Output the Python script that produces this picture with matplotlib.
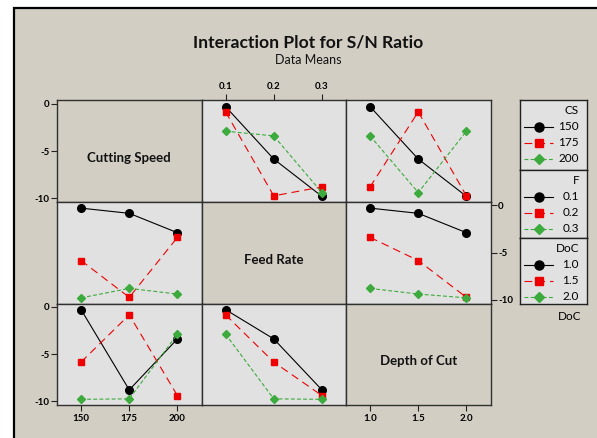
import matplotlib.pyplot as plt
import matplotlib.patches as mpatches
import pandas as pd

# L9 runs
cs_runs = [150, 150, 150, 175, 175, 175, 200, 200, 200]
f_runs = [0.1, 0.2, 0.3, 0.1, 0.2, 0.3, 0.1, 0.2, 0.3]
doc_runs = [1.0, 1.5, 2.0, 1.5, 2.0, 1.0, 2.0, 1.0, 1.5]
sn_runs = [-0.3, -5.85, -9.8, -0.85, -9.75, -8.8, -2.9, -3.4, -9.4]

factor_cols = ["CS", "F", "DoC"]
factor_names = ["Cutting Speed", "Feed Rate", "Depth of Cut"]
levels = {"CS": [150, 175, 200], "F": [0.1, 0.2, 0.3], "DoC": [1.0, 1.5, 2.0]}
level_labels = {"CS": ["150", "175", "200"], "F": ["0.1", "0.2", "0.3"],
                "DoC": ["1.0", "1.5", "2.0"]}
y_ticks = [0, -5, -10]

df = pd.DataFrame({"CS": cs_runs, "F": f_runs, "DoC": doc_runs, "SN": sn_runs})

W, H = 597, 438
BEIGE = "#D2CEC4"
PANEL = "#E1E1E1"
LW = 0.8
styles = [
    dict(color="black", marker="o", linestyle="-", markersize=5.5),
    dict(color="#EE0000", marker="s", linestyle=(0, (7, 4.5)), markersize=5),
    dict(color="#3DAA3D", marker="D", linestyle=(0, (3.5, 2)), markersize=4.5),
]

plt.rcParams["font.family"] = ["Lato", "DejaVu Sans"]


def px(x, y, w, h):
    return [x / W, 1 - (y + h) / H, w / W, h / H]


fig = plt.figure(figsize=(W / 100, H / 100), dpi=100, facecolor="white")
fig.patches.append(mpatches.Rectangle((13.5 / W, -0.1), 1.2, 1 - 8 / H + 0.1,
                                      transform=fig.transFigure, facecolor=BEIGE,
                                      edgecolor="black", linewidth=1.6, zorder=-5))

fig.text(308 / W, 1 - 42 / H, "Interaction Plot for S/N Ratio", ha="center",
         va="center", fontsize=12.6, fontweight="bold", color="#111111")
fig.text(308 / W, 1 - 60 / H, "Data Means", ha="center", va="center",
         fontsize=9, color="#111111")

x0, y0 = 57, 100.5
cw, ch = (490.5 - 57) / 3, (405 - 100.5) / 3

for r, row_f in enumerate(factor_cols):
    for c, col_f in enumerate(factor_cols):
        ax = fig.add_axes(px(x0 + c * cw, y0 + r * ch, cw, ch))
        lv = levels[col_f]
        step = lv[1] - lv[0]
        ax.set_xlim(lv[0] - 0.5 * step, lv[-1] + 0.5 * step)
        ax.set_ylim(-10.4, 0.35)
        ax.set_xticks(lv)
        ax.set_xticklabels(level_labels[col_f])
        ax.set_yticks(y_ticks)
        ax.set_yticklabels([str(t) for t in y_ticks])
        for s in ax.spines.values():
            s.set_color("#303030")
            s.set_linewidth(1.0)
        if r == c:
            ax.set_facecolor(BEIGE)
            ax.text(0.5, 0.43, factor_names[r], transform=ax.transAxes,
                    ha="center", va="center", fontsize=9.5, fontweight="bold",
                    color="#111111")
        else:
            ax.set_facecolor(PANEL)
            tab = df.groupby([row_f, col_f])["SN"].mean().unstack(col_f)
            for k, lev in enumerate(levels[row_f]):
                ax.plot(lv, tab.loc[lev, lv].values, linewidth=LW, **styles[k])
        ax.tick_params(axis="both", labelsize=7, length=4, width=0.8,
                       color="#222222", pad=2.5,
                       left=(c == 0 and r != 1), labelleft=(c == 0 and r != 1),
                       right=(c == 2 and r == 1), labelright=(c == 2 and r == 1),
                       bottom=(r == 2 and c != 1), labelbottom=(r == 2 and c != 1),
                       top=(r == 0 and c == 1), labeltop=(r == 0 and c == 1))
        ax.tick_params(axis="y", pad=1.5)
        for lab in ax.get_xticklabels() + ax.get_yticklabels():
            lab.set_fontweight("bold")

# legend boxes
box_tops = [100.5, 170, 238.3]
box_bottoms = [170, 238.3, 304.3]
for r, row_f in enumerate(factor_cols):
    lax = fig.add_axes(px(520, box_tops[r], 67, box_bottoms[r] - box_tops[r]))
    lax.set_facecolor(PANEL)
    lax.set_xlim(520, 587)
    lax.set_ylim(box_bottoms[r], box_tops[r])
    lax.set_xticks([])
    lax.set_yticks([])
    for s in lax.spines.values():
        s.set_color("#222222")
        s.set_linewidth(1.0)
    lax.text(579, box_tops[r] + 10.5, row_f, ha="right", va="center", fontsize=8.5)
    for k, lab in enumerate(level_labels[row_f]):
        yy = box_tops[r] + 26.5 + 16 * k
        st = dict(styles[k])
        mk = st.pop("marker")
        ms = st.pop("markersize")
        lax.plot([524, 553], [yy, yy], linewidth=LW, **st)
        lax.plot([538.5], [yy], marker=mk, markersize=ms + 1, color=st["color"],
                 linestyle="none")
        lax.text(579, yy, lab, ha="right", va="center", fontsize=8.5)

fig.text(570 / W, 1 - 316 / H, "DoC", ha="center", va="center", fontsize=8.5)

fig.savefig("out.png", dpi=100, facecolor=fig.get_facecolor())
